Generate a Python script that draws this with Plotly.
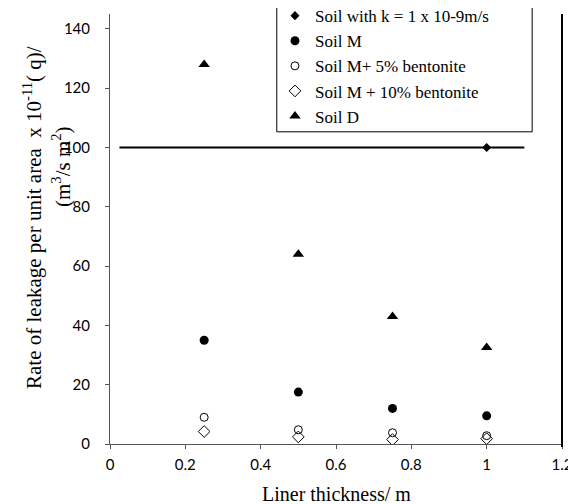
import plotly.graph_objects as go

thickness = [0.25, 0.5, 0.75, 1.0]
soil_m = [35, 17.5, 12, 9.5]
soil_m5 = [9, 4.8, 3.8, 2.8]
soil_m10 = [4.2, 2.4, 1.5, 1.8]
soil_d = [128, 64, 43, 32.5]
k_line_x = [0.025, 1.1]
k_line_y = [100, 100]
k_mark_x = [1.0]
k_mark_y = [100]

serif = "Liberation Serif"
fig = go.Figure()
fig.add_trace(go.Scatter(x=k_line_x, y=k_line_y, mode="lines",
                         line=dict(color="black", width=2), showlegend=False, hoverinfo="skip"))
fig.add_trace(go.Scatter(x=k_mark_x, y=k_mark_y, mode="markers", name="Soil with k = 1 x 10-9m/s",
                         marker=dict(symbol="diamond", size=7, color="black")))
fig.add_trace(go.Scatter(x=thickness, y=soil_m, mode="markers", name="Soil M",
                         marker=dict(symbol="circle", size=9, color="black")))
fig.add_trace(go.Scatter(x=thickness, y=soil_m5, mode="markers", name="Soil M+ 5% bentonite",
                         marker=dict(symbol="circle-open", size=8, color="black", line=dict(width=1))))
fig.add_trace(go.Scatter(x=thickness, y=soil_m10, mode="markers", name="Soil M + 10% bentonite",
                         marker=dict(symbol="diamond-open", size=9, color="black", line=dict(width=1))))
fig.add_trace(go.Scatter(x=thickness, y=soil_d, mode="markers", name="Soil D",
                         marker=dict(symbol="triangle-up", size=10, color="black")))

fig.update_layout(
    width=576, height=504,
    margin=dict(l=102, r=22, t=6, b=68, autoexpand=False),
    plot_bgcolor="white", paper_bgcolor="white",
    legend=dict(x=0.365, y=1.037, xanchor="left", yanchor="top",
                borderwidth=0, bgcolor="rgba(0,0,0,0)",
                font=dict(family=serif, size=17, color="black"),
                tracegroupgap=0, itemsizing="trace"),
    xaxis=dict(range=[0, 1.2], tickvals=[0, 0.2, 0.4, 0.6, 0.8, 1, 1.2],
               ticktext=["0", "0.2", "0.4", "0.6", "0.8", "1", "1.2"],
               showgrid=False, zeroline=False, showline=True, linecolor="#555", linewidth=1,
               ticks="outside", ticklen=4, tickcolor="#555", ticklabelstandoff=3,
               tickfont=dict(family="Lato", size=15, color="black")),
    yaxis=dict(range=[0, 145], tickvals=[0, 20, 40, 60, 80, 100, 120, 140],
               showgrid=False, zeroline=False, showline=True, linecolor="#555", linewidth=1,
               ticks="outside", ticklen=4, tickcolor="#555", ticklabelstandoff=12,
               tickfont=dict(family="Lato", size=15, color="black")),
    annotations=[
        dict(text="Liner thickness/ m", xref="paper", yref="paper", x=0.5, y=-0.116,
             xanchor="center", yanchor="middle", showarrow=False,
             font=dict(family=serif, size=20, color="black")),
        dict(text="Rate of leakage per unit area  x 10<sup>-11</sup>( q)/",
             xref="paper", yref="paper", x=(30 - 108) / 452, y=(442 - 216) / 430,
             xanchor="center", yanchor="middle",
             textangle=-90, showarrow=False, font=dict(family=serif, size=21, color="black")),
        dict(text="(m<sup>3</sup>/s m<sup>2</sup>)",
             xref="paper", yref="paper", x=(59 - 108) / 452, y=(442 - 165) / 430,
             xanchor="center", yanchor="middle",
             textangle=-90, showarrow=False, font=dict(family=serif, size=21, color="black")),
    ],
    shapes=[
        dict(type="line", xref="x domain", yref="y domain", x0=1, x1=1, y0=-0.007, y1=1,
             line=dict(color="black", width=2)),
        dict(type="rect", xref="paper", yref="paper", x0=0.369, x1=0.934, y0=0.726, y1=1.05,
             line=dict(color="black", width=1), fillcolor="white", layer="below"),
    ],
)
fig.write_html("out.html")
